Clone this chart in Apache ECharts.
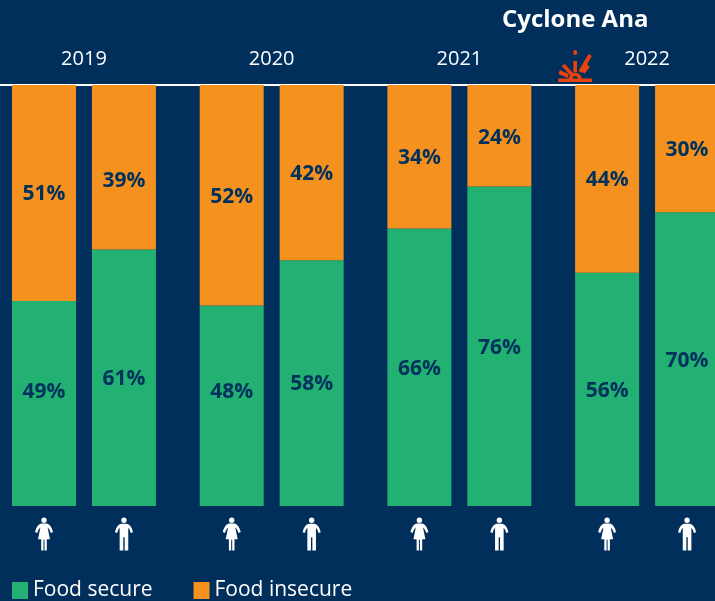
<!DOCTYPE html>
<html>
<head>
<meta charset="utf-8">
<style>
  html, body { margin: 0; padding: 0; background: #002f5b; }
  #chart { width: 715px; height: 601px; }
</style>
<script src="https://cdn.jsdelivr.net/npm/echarts@6/dist/echarts.min.js"></script>
</head>
<body>
<div id="chart"></div>
<script>
const chart = echarts.init(document.getElementById('chart'))

const years = ['2019', '2020', '2021', '2022']
const sexes = ['female', 'male']
// one value per bar: 2019 F, 2019 M, 2020 F, ...
// bar heights
const foodSecure = [48.7, 60.9, 47.6, 58.4, 65.9, 75.9, 55.4, 69.8]
const foodInsecure = [51.3, 39.1, 52.4, 41.6, 34.1, 24.1, 44.6, 30.2]
// the printed percentages
const foodSecureLabels = ['49%', '61%', '48%', '58%', '66%', '76%', '56%', '70%']
const foodInsecureLabels = ['51%', '39%', '52%', '42%', '34%', '24%', '44%', '30%']
const cycloneName = 'Cyclone Ana'
const cycloneYear = 2.83 // between the 2021 and 2022 groups, in year steps

// labels in the original are hand placed, not always centred in the segment
const secureLabelNudge = [-11, 1, -14, 1, 2, 2, 2, 2]
const insecureLabelNudge = [1, 14, 2, 1, 1, 2, 1, 1]

// Pictograms
const womanIcon = 'path://M9 .7a2.7 2.7 0 1 0 .01 0zM6 6.6H12Q16.2 7.8 18 15L15.8 15.9Q14.6 11.8 12.6 10.6L15 22H11.8V33H9.5V22.5H8.5V33H6.2V22H3L5.4 10.6Q3.4 11.8 2.2 15.9L0 15Q1.8 7.8 6 6.6z'
const manIcon = 'path://M9 .5a2.7 2.7 0 1 0 .01 0zM6 6.6H12Q16.5 7.6 18 15L15.8 15.8Q15 11.8 13.3 10.6V33H9.7V20H8.3V33H4.7V10.6Q3 11.8 2.2 15.8L0 15Q1.5 7.6 6 6.6z'
const cycloneIcon = 'path://M0 28.5H34V32H0ZM17 0a1.9 1.9 0 0 1 1.9 1.9V3a1.9 1.9 0 0 1-3.8 0V1.9A1.9 1.9 0 0 1 17 0ZM15.2 11H18.8V22H15.2ZM30.3 4L33.7 6 23.7 23 20.3 21ZM3.4 16L6.6 14 15.2 23.5 12.2 25.5ZM.5 24L1.5 20 10.5 24 9.5 28ZM28.8 14.3L31.7 17 26.2 23.7 23.3 21ZM10.5 29A6.5 6.5 0 0 1 23.5 29ZM19.5 28.5A2.5 2.5 0 0 0 14.5 28.5Z'

const barGap = 0.426 // second bar of a pair, in year steps
const xOf = (i) => Math.floor(i / 2) + (i % 2) * barGap
const yearTicks = years.map((y, i) => i + barGap / 2)

const labelStyle = {
  show: true,
  position: 'inside',
  color: '#00305c',
  fontFamily: 'Open Sans',
  fontWeight: 'bold',
  fontSize: 21,
}

function barData(values, labels, nudge) {
  return values.map((v, i) => ({
    value: [v, xOf(i)],
    label: { formatter: labels[i], offset: [0, nudge[i]] },
  }))
}

const option = {
  animation: false,
  backgroundColor: '#002f5b',
  textStyle: { fontFamily: 'Open Sans' },
  grid: { left: 0, right: 0, top: 85, bottom: 95 },
  legend: {
    data: ['Food secure', 'Food insecure'],
    left: 7,
    top: 575,
    itemWidth: 16,
    itemHeight: 17,
    itemGap: 41,
    icon: 'rect',
    textStyle: { color: '#ffffff', fontSize: 21, fontFamily: 'Open Sans' },
  },
  xAxis: {
    type: 'value',
    position: 'top',
    min: -44 / 187.7,
    max: 671 / 187.7,
    splitLine: { show: false },
    axisTick: { show: false },
    axisLine: { show: true, onZero: false, lineStyle: { color: '#ffffff', width: 2 } },
    axisLabel: {
      customValues: yearTicks,
      formatter: (v) => years[Math.round(v - barGap / 2)],
      color: '#ffffff',
      fontSize: 20,
      fontWeight: 500,
      fontFamily: 'Open Sans',
      margin: 16,
    },
  },
  yAxis: { type: 'value', min: 0, max: 100, show: false },
  series: [
    {
      name: 'Food secure',
      type: 'bar',
      stack: 'food',
      barWidth: 64,
      itemStyle: { color: '#22b073' },
      label: labelStyle,
      encode: { x: 1, y: 0 },
      data: barData(foodSecure, foodSecureLabels, secureLabelNudge),
    },
    {
      name: 'Food insecure',
      type: 'bar',
      stack: 'food',
      barWidth: 64,
      itemStyle: { color: '#f5911e' },
      label: labelStyle,
      encode: { x: 1, y: 0 },
      data: barData(foodInsecure, foodInsecureLabels, insecureLabelNudge),
    },
    {
      type: 'scatter',
      clip: false,
      silent: true,
      symbol: (val, p) => (sexes[p.dataIndex % 2] === 'female' ? womanIcon : manIcon),
      symbolSize: [18, 33],
      symbolOffset: [0, 28],
      itemStyle: { color: '#ffffff', opacity: 1 },
      data: foodSecure.map((v, i) => [xOf(i), 0]),
    },
    {
      type: 'scatter',
      clip: false,
      silent: true,
      z: 5,
      symbol: cycloneIcon,
      symbolSize: [34, 32],
      symbolOffset: [0, -19],
      itemStyle: { color: '#e8420e', opacity: 1 },
      label: {
        show: true,
        position: 'top',
        distance: 18,
        formatter: cycloneName,
        color: '#ffffff',
        fontFamily: 'Open Sans',
        fontWeight: 'bold',
        fontSize: 24,
      },
      data: [[cycloneYear, 100]],
    },
  ],
}

chart.setOption(option)
</script>
</body>
</html>
